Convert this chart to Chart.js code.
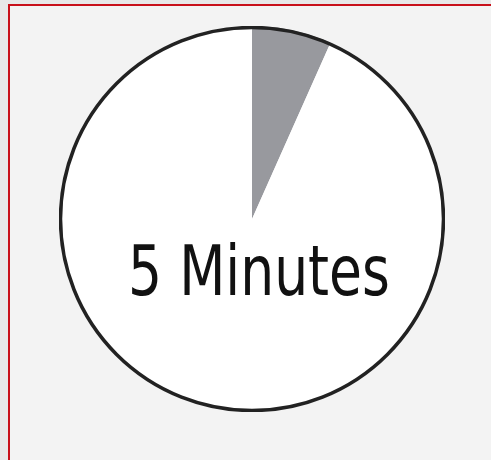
<!DOCTYPE html>
<html>
<head>
<meta charset="utf-8">
<script src="https://cdn.jsdelivr.net/npm/chart.js@4/dist/chart.umd.min.js"></script>
<style>
  html, body { margin: 0; padding: 0; background: #e8e8e8; width: 491px; height: 460px; overflow: hidden; }
  #frame { position: absolute; left: 8px; top: 4px; width: 500px; height: 454px; border: 2px solid #c8101a; border-right: none; background: #f3f3f3; }
  #chart { position: absolute; left: 59px; top: 26px; }
</style>
</head>
<body>
<div id="frame"></div>
<canvas id="chart" width="386" height="386"></canvas>
<script>
var labels = ['Elapsed', 'Remaining'];
var minutes = [4, 56];
var caption = '5 Minutes';

// outline round the whole pie plus the caption in the middle
var dialPlugin = {
  id: 'dial',
  afterDatasetsDraw: function (chart) {
    var arc = chart.getDatasetMeta(0).data[0];
    var ctx = chart.ctx;
    ctx.save();
    ctx.beginPath();
    ctx.arc(arc.x, arc.y, arc.outerRadius - 1.5, 0, Math.PI * 2);
    ctx.lineWidth = 3.5;
    ctx.strokeStyle = '#222222';
    ctx.stroke();
    // squeeze the text a bit, the original face is narrower
    ctx.translate(arc.x + 7, arc.y + 76);
    ctx.scale(0.85, 1);
    ctx.font = '500 70px "DejaVu Sans Condensed", "Liberation Sans", sans-serif';
    ctx.fillStyle = '#111111';
    ctx.textAlign = 'center';
    ctx.textBaseline = 'alphabetic';
    ctx.fillText(caption, 0, 0);
    ctx.restore();
  }
};

var config = {
  type: 'pie',
  data: {
    labels: labels,
    datasets: [{
      data: minutes,
      backgroundColor: ['#98999e', '#ffffff'],
      borderWidth: 0,
      hoverOffset: 0
    }]
  },
  options: {
    responsive: false,
    animation: false,
    events: [],
    layout: { padding: 0 },
    plugins: {
      legend: { display: false },
      tooltip: { enabled: false }
    }
  },
  plugins: [dialPlugin]
};

window.onload = function () {
  var ctx = document.getElementById('chart');
  window.myPie = new Chart(ctx, config);
};
</script>
</body>
</html>
